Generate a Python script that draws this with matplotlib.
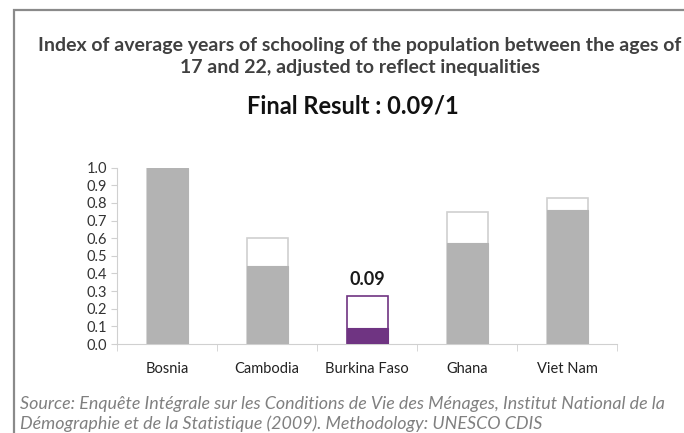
import matplotlib.pyplot as plt
from matplotlib.patches import Rectangle

countries = ["Bosnia", "Cambodia", "Burkina Faso", "Ghana", "Viet Nam"]
# index before and after adjusting for inequality
index_total = [1.0, 0.60, 0.275, 0.75, 0.83]
index_adjusted = [1.0, 0.44, 0.09, 0.575, 0.76]
highlight = "Burkina Faso"
highlight_label = "0.09"

plt.rcParams['font.family'] = ['Lato', 'DejaVu Sans']

gris = "#b3b3b3"
violet = "#6f3482"
bord = "#d0d0d0"

fig = plt.figure(figsize=(6.84, 4.33), dpi=100)

# cadre gris autour du graphique
fig.patches.append(Rectangle((14 / 684, -0.1), 1.2, 1 - 10 / 433 + 0.1,
                             transform=fig.transFigure, fill=False,
                             edgecolor="#8a8a8a", linewidth=1.6))

ax = fig.add_axes([117 / 684, 1 - 344 / 433, 500 / 684, 176.3 / 433])

x = range(len(countries))
for i, pays in enumerate(countries):
    couleur = violet if pays == highlight else gris
    contour = violet if pays == highlight else bord
    ax.bar(i, index_total[i], width=0.41, color="white", edgecolor=contour,
           linewidth=1.2, zorder=2)
    ax.bar(i, index_adjusted[i], width=0.41, color=couleur, edgecolor=couleur,
           linewidth=0.8, zorder=3)
    if pays == highlight:
        ax.text(i, index_total[i] + 0.04, highlight_label, ha="center",
                va="bottom", fontsize=13, fontweight="bold", color="#1a1a1a")

ax.set_xlim(-0.5, len(countries) - 0.5)
ax.set_ylim(0, 1.0)
ax.set_yticks([k / 10 for k in range(11)])
ax.set_yticklabels([f"{k / 10:.1f}" for k in range(11)], fontsize=10.5, color="#333333")
ax.set_xticks(list(x))
ax.set_xticklabels(countries, fontsize=10.5, color="#222222")
ax.set_xticks([k - 0.5 for k in range(len(countries) + 1)], minor=True)
ax.tick_params(axis="x", which="major", length=0, pad=13)
ax.tick_params(axis="x", which="minor", length=5, color=bord, direction="out")
ax.tick_params(axis="y", length=4, color=bord, direction="out", pad=3)

for cote in ["top", "right"]:
    ax.spines[cote].set_visible(False)
ax.spines["left"].set_color(bord)
ax.spines["bottom"].set_color(bord)

fig.text(0.526, 1 - 45 / 433, "Index of average years of schooling of the population between the ages of",
         ha="center", va="center", fontsize=14, fontweight="bold", color="#404040")
fig.text(0.526, 1 - 68 / 433, "17 and 22, adjusted to reflect inequalities",
         ha="center", va="center", fontsize=14, fontweight="bold", color="#404040")
fig.text(0.516, 1 - 106 / 433, "Final Result : 0.09/1",
         ha="center", va="center", fontsize=17, fontweight="bold", color="#111111")

fig.text(20 / 684, 1 - 404 / 433,
         "Source: Enquête Intégrale sur les Conditions de Vie des Ménages, Institut National de la",
         ha="left", va="center", fontsize=12.9, style="italic", color="#808080")
fig.text(20 / 684, 1 - 424 / 433,
         "Démographie et de la Statistique (2009). Methodology: UNESCO CDIS",
         ha="left", va="center", fontsize=12.9, style="italic", color="#808080")

fig.savefig("out.png", dpi=100)
